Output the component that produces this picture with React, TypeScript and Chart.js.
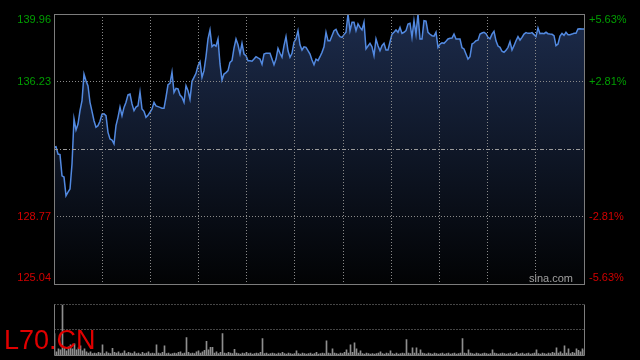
import React, { useEffect, useRef } from 'react';
import { Chart, registerables } from 'chart.js';

Chart.register(...registerables);

// ---- data ----
const prices = [
  132.59, 132.63, 132.22, 132.19, 131.02, 130.95, 129.92, 130.12, 130.29, 131.67,
  134.16, 133.55, 133.88, 134.62, 135.17, 136.64, 136.27, 135.98, 135.08, 134.58,
  134.06, 133.70, 133.79, 134.03, 134.43, 134.45, 134.34, 133.42, 133.05, 133.00,
  132.78, 133.79, 134.25, 134.82, 134.34, 134.80, 135.08, 135.50, 135.54, 134.99,
  134.62, 134.82, 134.89, 135.65, 134.71, 134.58, 134.25, 134.36, 134.53, 134.71,
  135.08, 134.88, 134.84, 134.80, 134.75, 134.75, 135.36, 136.05, 136.13, 136.74,
  135.63, 135.85, 135.82, 135.48, 135.36, 135.08, 136.00, 135.72, 135.26, 136.24,
  136.46, 136.68, 137.10, 137.32, 136.46, 136.83, 137.60, 138.58, 139.08, 138.15,
  138.26, 138.18, 138.58, 137.20, 136.31, 136.64, 136.72, 136.83, 137.29, 137.38,
  138.08, 138.58, 138.26, 137.75, 138.34, 137.75, 137.66, 137.38, 137.38, 137.35,
  137.47, 137.60, 137.53, 137.47, 137.18, 137.75, 137.79, 137.79, 137.79, 137.47,
  137.16, 137.47, 138.06, 137.79, 137.57, 138.21, 138.71, 137.93, 137.57, 137.79,
  138.40, 138.58, 139.04, 138.26, 137.97, 138.15, 138.12, 137.93, 137.75, 137.42,
  137.16, 137.46, 137.38, 137.60, 137.84, 138.15, 138.95, 138.48, 138.48, 138.76,
  139.04, 139.11, 138.85, 138.71, 138.67, 138.82, 138.95, 139.96, 139.04, 139.50,
  139.50, 139.04, 139.41, 139.22, 139.08, 139.50, 138.03, 138.19, 138.34, 138.15,
  137.66, 138.58, 138.21, 137.93, 138.21, 138.34, 137.97, 137.97, 138.41, 138.85,
  138.95, 139.08, 138.95, 139.22, 138.89, 138.95, 139.04, 139.41, 139.45, 138.67,
  139.59, 138.85, 139.96, 138.58, 138.58, 139.59, 139.57, 138.95, 138.84, 138.76,
  138.74, 138.95, 138.12, 138.30, 138.37, 138.34, 138.45, 138.58, 138.62, 138.63,
  138.85, 138.58, 138.58, 138.58, 138.10, 138.03, 137.75, 137.47, 137.60, 138.30,
  138.37, 138.48, 138.51, 138.85, 138.91, 138.95, 138.87, 138.67, 138.59, 138.85,
  139.00, 138.48, 138.19, 138.12, 137.90, 137.84, 137.95, 138.12, 138.43, 137.97,
  138.21, 138.48, 138.71, 138.52, 138.67, 138.85, 138.93, 138.89, 138.89, 138.93,
  138.82, 138.71, 139.19, 138.87, 138.89, 138.87, 138.95, 138.87, 138.85, 138.84,
  138.76, 138.21, 138.30, 138.74, 138.89, 138.78, 138.95, 138.82, 138.82, 138.85,
  138.89, 138.89, 139.13, 139.15, 139.13, 139.13,
];

const volumes = [
  42, 6, 12, 10, 98, 14, 8, 16, 20, 12, 22, 10, 14, 18, 8, 12, 6, 4, 6, 3,
  4, 3, 5, 4, 20, 3, 6, 4, 3, 13, 5, 4, 6, 3, 4, 8, 3, 5, 4, 3,
  6, 3, 4, 2, 5, 3, 4, 6, 3, 4, 3, 20, 4, 3, 5, 18, 3, 4, 2, 3,
  4, 3, 5, 6, 3, 4, 34, 5, 3, 4, 3, 6, 8, 4, 6, 9, 27, 10, 15, 15,
  4, 6, 3, 5, 42, 4, 3, 5, 4, 3, 11, 4, 3, 2, 4, 3, 5, 3, 4, 2,
  3, 4, 3, 5, 32, 3, 4, 2, 3, 4, 3, 2, 4, 3, 5, 3, 2, 4, 3, 2,
  3, 8, 3, 2, 4, 3, 2, 3, 4, 2, 3, 5, 2, 3, 4, 3, 28, 4, 3, 12,
  4, 3, 2, 4, 3, 5, 10, 4, 20, 5, 24, 12, 4, 8, 3, 2, 4, 3, 2, 3,
  2, 3, 4, 6, 3, 2, 4, 3, 8, 3, 2, 4, 2, 3, 4, 3, 30, 4, 3, 14,
  4, 14, 3, 10, 4, 3, 2, 4, 3, 2, 4, 3, 2, 3, 4, 2, 3, 4, 2, 3,
  4, 2, 3, 4, 32, 4, 3, 10, 4, 3, 2, 4, 3, 2, 3, 4, 3, 2, 3, 10,
  4, 3, 2, 3, 4, 3, 2, 3, 4, 2, 3, 5, 2, 3, 4, 2, 3, 4, 2, 3,
  4, 10, 3, 2, 4, 3, 2, 4, 3, 5, 4, 14, 4, 6, 3, 18, 4, 12, 3, 5,
  4, 12, 9, 6, 12, 9,
];

const prevClose = 132.5;
const priceMin = 125.04;
const priceMax = 139.96;
const priceTicks = [139.96, 136.23, 128.77, 125.04];
const pctTicks = ['+5.63%', '+2.81%', '-2.81%', '-5.63%'];
const timeDivisions = 11;
const volumeMax = 100;
const symbol = 'L70.CN';
const watermark = 'sina.com';

// ---- styles ----
const FONT = 'Arial, "Liberation Sans", sans-serif';
const UP = '#009e00';
const DOWN = '#d20000';
const FRAME = '#7c7c7c';
const GRID = '#8a8a8a';

function crisp(v: number) {
  return Math.round(v - 0.5) + 0.5;
}

const mainDecor = {
  id: 'mainDecor',
  afterDatasetsDraw(chart: any) {
    const { ctx, chartArea: a, scales } = chart;
    const xs = scales.x;
    const ys = scales.y;
    const n = prices.length;
    ctx.save();
    ctx.lineWidth = 1;
    ctx.strokeStyle = GRID;
    ctx.setLineDash([1, 2]);
    for (let i = 1; i < timeDivisions; i++) {
      const x = crisp(xs.getPixelForValue((i * (n - 1)) / timeDivisions));
      ctx.beginPath();
      ctx.moveTo(x, a.top);
      ctx.lineTo(x, a.bottom);
      ctx.stroke();
    }
    for (const v of priceTicks) {
      if (v === priceMax || v === priceMin) continue;
      const y = crisp(ys.getPixelForValue(v));
      ctx.beginPath();
      ctx.moveTo(a.left, y);
      ctx.lineTo(a.right, y);
      ctx.stroke();
    }
    ctx.setLineDash([4, 2, 1, 2]);
    ctx.strokeStyle = '#9a9a9a';
    const yc = crisp(ys.getPixelForValue(prevClose));
    ctx.beginPath();
    ctx.moveTo(a.left, yc);
    ctx.lineTo(a.right, yc);
    ctx.stroke();
    ctx.setLineDash([]);
    ctx.strokeStyle = FRAME;
    ctx.strokeRect(crisp(a.left), crisp(a.top), Math.round(a.right - a.left), Math.round(a.bottom - a.top));
    ctx.font = `11px ${FONT}`;
    ctx.textBaseline = 'middle';
    priceTicks.forEach((v, k) => {
      let y = ys.getPixelForValue(v);
      if (y < a.top + 6) y = a.top + 6;
      if (y > a.bottom - 6) y = a.bottom - 6;
      ctx.fillStyle = v > prevClose ? UP : DOWN;
      ctx.textAlign = 'right';
      ctx.fillText(v.toFixed(2), a.left - 3, y);
      ctx.textAlign = 'left';
      ctx.fillText(pctTicks[k], a.right + 5, y);
    });
    ctx.fillStyle = '#a0a0a0';
    ctx.textAlign = 'right';
    ctx.textBaseline = 'alphabetic';
    ctx.fillText(watermark, a.right - 11, a.bottom - 2);
    ctx.restore();
  },
};

const volDecor = {
  id: 'volDecor',
  afterDatasetsDraw(chart: any) {
    const { ctx, chartArea: a, scales } = chart;
    const ys = scales.y;
    ctx.save();
    ctx.lineWidth = 1;
    ctx.strokeStyle = GRID;
    ctx.setLineDash([1, 2]);
    for (const v of [volumeMax, volumeMax / 2]) {
      const y = crisp(ys.getPixelForValue(v));
      ctx.beginPath();
      ctx.moveTo(a.left, y);
      ctx.lineTo(a.right, y);
      ctx.stroke();
    }
    ctx.setLineDash([]);
    ctx.strokeStyle = FRAME;
    const l = crisp(a.left);
    const r = crisp(a.right);
    const t = crisp(a.top);
    const b = crisp(a.bottom);
    ctx.beginPath();
    ctx.moveTo(l, t);
    ctx.lineTo(l, b);
    ctx.lineTo(r, b);
    ctx.lineTo(r, t);
    ctx.stroke();
    ctx.restore();
  },
};

export default function App() {
  const mainRef = useRef<HTMLCanvasElement>(null);
  const volRef = useRef<HTMLCanvasElement>(null);

  useEffect(() => {
    const n = prices.length;
    const mainChart = new Chart(mainRef.current as HTMLCanvasElement, {
      type: 'line',
      data: {
        datasets: [
          {
            data: prices.map((p, i) => ({ x: i, y: p })),
            borderColor: '#5289e0',
            borderWidth: 1.5,
            pointRadius: 0,
            tension: 0,
            fill: 'start',
            backgroundColor: (c: any) => {
              const a = c.chart.chartArea;
              if (!a) return 'transparent';
              const g = c.chart.ctx.createLinearGradient(0, a.top, 0, a.bottom);
              g.addColorStop(0, '#1c2b4b');
              g.addColorStop(1, '#020304');
              return g;
            },
          },
        ],
      },
      options: {
        responsive: false,
        animation: false,
        devicePixelRatio: 1,
        layout: { padding: { left: 54, right: 56, top: 14, bottom: 76 } },
        plugins: { legend: { display: false }, tooltip: { enabled: false } },
        scales: {
          x: { type: 'linear', display: false, min: 0, max: n - 1 },
          y: { type: 'linear', display: false, min: priceMin, max: priceMax },
        },
      },
      plugins: [mainDecor],
    } as any);

    const volChart = new Chart(volRef.current as HTMLCanvasElement, {
      type: 'bar',
      data: {
        datasets: [
          {
            data: volumes.map((v, i) => ({ x: i, y: v })),
            backgroundColor: '#8e8e8e',
            barThickness: 1,
            borderWidth: 0,
          },
        ],
      },
      options: {
        responsive: false,
        animation: false,
        devicePixelRatio: 1,
        layout: { padding: { left: 54.5, right: 55.5, top: 304, bottom: 5 } },
        plugins: { legend: { display: false }, tooltip: { enabled: false } },
        scales: {
          x: { type: 'linear', display: false, min: 0, max: n - 1, offset: false },
          y: { type: 'linear', display: false, min: 0, max: volumeMax },
        },
      },
      plugins: [volDecor],
    } as any);

    return () => {
      mainChart.destroy();
      volChart.destroy();
    };
  }, []);

  return (
    <div
      style={{
        position: 'fixed',
        left: 0,
        top: 0,
        width: 640,
        height: 360,
        background: '#000',
        overflow: 'hidden',
      }}
    >
      <canvas
        ref={mainRef}
        width={640}
        height={360}
        style={{ position: 'absolute', left: 0, top: 0, width: 640, height: 360 }}
      />
      <canvas
        ref={volRef}
        width={640}
        height={360}
        style={{ position: 'absolute', left: 0, top: 0, width: 640, height: 360 }}
      />
      <div
        style={{
          position: 'absolute',
          left: 4,
          top: 327,
          fontFamily: FONT,
          fontSize: 27,
          lineHeight: '27px',
          color: '#e00000',
          whiteSpace: 'nowrap',
        }}
      >
        {symbol}
      </div>
    </div>
  );
}
